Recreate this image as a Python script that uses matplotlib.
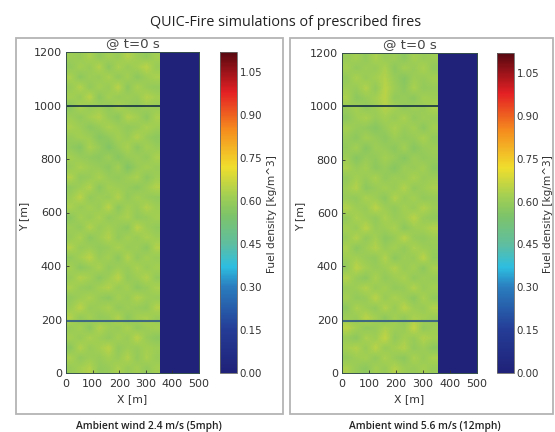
import matplotlib
matplotlib.use('Agg')
import matplotlib.pyplot as plt
import numpy as np
from matplotlib.colors import LinearSegmentedColormap, Normalize
from matplotlib.patches import Rectangle
from matplotlib.cm import ScalarMappable

W, H = 555.0, 432.0

x_ticks = [0, 100, 200, 300, 400, 500]
y_ticks = [0, 200, 400, 600, 800, 1000, 1200]
cbar_ticks = [0.00, 0.15, 0.30, 0.45, 0.60, 0.75, 0.90, 1.05]
vmax = 1.12
fuel_end = 355      # x where the fuel stops
bare_value = 0.0
break_y_left = [1000, 195]
break_y_right = [1000, 195]
captions = ['Ambient wind 2.4 m/s (5mph)', 'Ambient wind 5.6 m/s (12mph)']

# fuel density, hundredths of kg/m^3, top row first
fuel_left = [
    [61, 60, 63, 59, 62, 60, 64, 61, 59, 62],
    [59, 62, 60, 64, 58, 63, 60, 62, 65, 60],
    [63, 58, 61, 60, 63, 59, 62, 58, 61, 63],
    [60, 64, 59, 62, 60, 65, 58, 63, 60, 59],
    [62, 60, 65, 58, 62, 60, 61, 60, 64, 62],
    [58, 63, 60, 61, 59, 63, 60, 59, 61, 60],
    [61, 59, 62, 64, 60, 58, 64, 62, 58, 63],
    [63, 61, 58, 60, 63, 61, 59, 60, 63, 61],
    [60, 62, 61, 57, 59, 62, 60, 64, 60, 58],
    [59, 57, 63, 60, 56, 60, 63, 58, 62, 60],
    [62, 60, 59, 58, 61, 57, 60, 61, 59, 63],
    [60, 63, 61, 60, 58, 62, 56, 60, 62, 60],
    [64, 59, 60, 63, 60, 59, 61, 63, 58, 61],
    [59, 61, 64, 58, 62, 61, 60, 58, 61, 64],
    [61, 65, 59, 61, 60, 64, 59, 62, 60, 59],
    [63, 60, 62, 60, 65, 58, 62, 60, 64, 61],
    [58, 62, 60, 63, 59, 61, 63, 59, 60, 62],
    [61, 59, 64, 60, 62, 60, 58, 65, 61, 59],
    [60, 63, 58, 61, 64, 59, 62, 60, 63, 61],
    [64, 60, 61, 59, 60, 63, 60, 61, 58, 64],
    [59, 62, 65, 60, 62, 58, 64, 59, 62, 60],
    [62, 58, 60, 63, 59, 61, 60, 63, 60, 62],
    [60, 64, 62, 58, 61, 65, 59, 61, 64, 59],
    [63, 60, 59, 62, 64, 60, 62, 58, 60, 63],
    [59, 61, 63, 60, 58, 62, 60, 64, 61, 60],
    [61, 65, 60, 61, 63, 59, 61, 60, 59, 64],
    [64, 59, 62, 59, 60, 64, 58, 62, 63, 60],
    [60, 62, 58, 64, 61, 60, 63, 59, 61, 62],
    [62, 60, 63, 61, 59, 62, 60, 65, 60, 58],
    [58, 64, 60, 62, 65, 59, 61, 60, 62, 61],
    [63, 59, 61, 60, 62, 60, 64, 59, 63, 60],
    [60, 62, 64, 59, 60, 63, 60, 62, 59, 62],
]
fuel_right = [
    [60, 62, 59, 63, 60, 61, 58, 62, 60, 61],
    [62, 59, 61, 60, 63, 58, 62, 60, 63, 59],
    [59, 63, 60, 62, 64, 60, 57, 61, 60, 62],
    [61, 60, 64, 59, 65, 61, 58, 63, 59, 60],
    [63, 58, 60, 62, 65, 59, 60, 58, 62, 61],
    [60, 62, 59, 61, 64, 62, 59, 61, 60, 63],
    [58, 61, 63, 60, 62, 60, 63, 59, 61, 60],
    [62, 60, 59, 57, 60, 63, 60, 62, 58, 62],
    [60, 58, 62, 60, 58, 61, 59, 60, 63, 59],
    [59, 62, 57, 61, 60, 58, 62, 57, 60, 61],
    [61, 57, 60, 59, 62, 60, 57, 61, 59, 60],
    [63, 60, 62, 58, 60, 57, 61, 60, 62, 58],
    [59, 62, 60, 63, 59, 61, 60, 63, 60, 61],
    [61, 64, 58, 60, 62, 60, 64, 59, 61, 63],
    [60, 59, 63, 61, 58, 64, 60, 62, 59, 60],
    [64, 61, 60, 65, 61, 59, 62, 60, 64, 61],
    [59, 63, 61, 59, 63, 60, 61, 65, 60, 59],
    [62, 60, 65, 60, 61, 63, 58, 61, 62, 64],
    [60, 64, 59, 62, 58, 60, 65, 60, 59, 61],
    [63, 58, 61, 64, 60, 62, 59, 63, 61, 60],
    [61, 62, 60, 59, 64, 58, 61, 60, 65, 59],
    [59, 65, 62, 60, 61, 64, 60, 62, 58, 63],
    [64, 60, 58, 63, 59, 61, 63, 59, 61, 60],
    [60, 61, 64, 60, 62, 59, 60, 64, 60, 62],
    [62, 59, 60, 65, 60, 63, 61, 58, 63, 59],
    [58, 63, 61, 59, 64, 60, 65, 61, 60, 64],
    [61, 60, 65, 62, 58, 62, 59, 63, 62, 60],
    [65, 62, 59, 60, 63, 61, 60, 66, 59, 61],
    [60, 58, 63, 61, 66, 59, 62, 60, 64, 62],
    [62, 64, 60, 65, 60, 62, 64, 59, 61, 58],
    [59, 61, 62, 59, 63, 60, 58, 63, 60, 63],
    [63, 60, 58, 62, 60, 64, 61, 60, 62, 60],
]

# muted jet as it looks in the picture
cmap = LinearSegmentedColormap.from_list('fuel', [
    (0.00 / vmax, (32 / 255., 33 / 255., 120 / 255.)),
    (0.15 / vmax, (36 / 255., 60 / 255., 150 / 255.)),
    (0.30 / vmax, (42 / 255., 125 / 255., 190 / 255.)),
    (0.37 / vmax, (45 / 255., 190 / 255., 225 / 255.)),
    (0.45 / vmax, (95 / 255., 190 / 255., 160 / 255.)),
    (0.55 / vmax, (125 / 255., 195 / 255., 105 / 255.)),
    (0.62 / vmax, (163 / 255., 207 / 255., 82 / 255.)),
    (0.72 / vmax, (240 / 255., 222 / 255., 45 / 255.)),
    (0.85 / vmax, (245 / 255., 140 / 255., 30 / 255.)),
    (0.98 / vmax, (228 / 255., 32 / 255., 36 / 255.)),
    (1.00, (88 / 255., 8 / 255., 16 / 255.)),
])
norm = Normalize(0, vmax)


def box(x0, y0, x1, y1):
    # pixel box (top-left origin) to figure fractions
    return [x0 / W, 1 - y1 / H, (x1 - x0) / W, (y1 - y0) / H]


def panel(fig, ax_px, cb_px, frame_px, fuel, breaks, caption, cap_x, label_x, cb_label_x):
    fx0, fy0, fx1, fy1 = frame_px
    fig.add_artist(Rectangle((fx0 / W, 1 - fy1 / H), (fx1 - fx0) / W, (fy1 - fy0) / H,
                             transform=fig.transFigure, fill=False,
                             edgecolor='#b4b4b4', linewidth=1.3))
    ax = fig.add_axes(box(*ax_px))
    ax.imshow(np.array(fuel) / 100.0, extent=[0, fuel_end, 0, 1200], aspect='auto',
              cmap=cmap, norm=norm, interpolation='bilinear')
    ax.imshow([[bare_value]], extent=[fuel_end, 500, 0, 1200], aspect='auto',
              cmap=cmap, norm=norm)
    ax.hlines(breaks[0], 0, fuel_end, color='#1f3d45', linewidth=1.3)
    ax.hlines(breaks[1], 0, fuel_end, color='#3f6a80', linewidth=1.5)
    ax.set_xlim(0, 500)
    ax.set_ylim(0, 1200)
    ax.set_xticks(x_ticks)
    ax.set_yticks(y_ticks)
    ax.tick_params(labelsize=8.0, length=2, width=0.6, direction='in', colors='#333333')
    ax.tick_params(axis='x', pad=4)
    ax.tick_params(axis='y', pad=3)
    for s in ax.spines.values():
        s.set_linewidth(0.7)
        s.set_color('#35504a')
    ax.set_title('@ t=0 s', fontsize=9.6, color='#444444', pad=3.5)
    ax.set_xlabel('X [m]', fontsize=7.8, color='#333333', labelpad=4)
    fig.text(label_x / W, 1 - 216 / H, 'Y [m]', rotation=90, fontsize=7.8,
             color='#333333', ha='center', va='center')

    cax = fig.add_axes(box(*cb_px))
    cb = fig.colorbar(ScalarMappable(norm=norm, cmap=cmap), cax=cax)
    cb.set_ticks(cbar_ticks)
    cb.set_ticklabels(['%.2f' % t for t in cbar_ticks])
    cb.ax.tick_params(labelsize=7.4, length=0, pad=2, colors='#333333')
    cb.outline.set_linewidth(0.6)
    cb.outline.set_edgecolor('#666666')
    fig.text(cb_label_x / W, 1 - 214 / H, 'Fuel density [kg/m^3]', rotation=90, fontsize=7.6,
             color='#333333', ha='center', va='center')

    fig.text(cap_x / W, 1 - 427 / H, caption, fontsize=7.4, color='#222222', weight='semibold',
             family='Open Sans', ha='center', va='center')


fig = plt.figure(figsize=(5.55, 4.32), dpi=100)
fig.text(286 / W, 1 - 22 / H, 'QUIC-Fire simulations of prescribed fires', fontsize=10.4,
         color='#222222', family='Open Sans', ha='center', va='center')

panel(fig, (66, 52, 199, 373), (220, 52, 237, 373), (16, 38, 283, 414),
      fuel_left, break_y_left, captions[0], 149, 24, 272)
panel(fig, (342, 53, 477, 373), (497, 53, 514, 373), (290, 38, 553, 414),
      fuel_right, break_y_right, captions[1], 425, 300, 548)

fig.savefig('out.png', dpi=100)
